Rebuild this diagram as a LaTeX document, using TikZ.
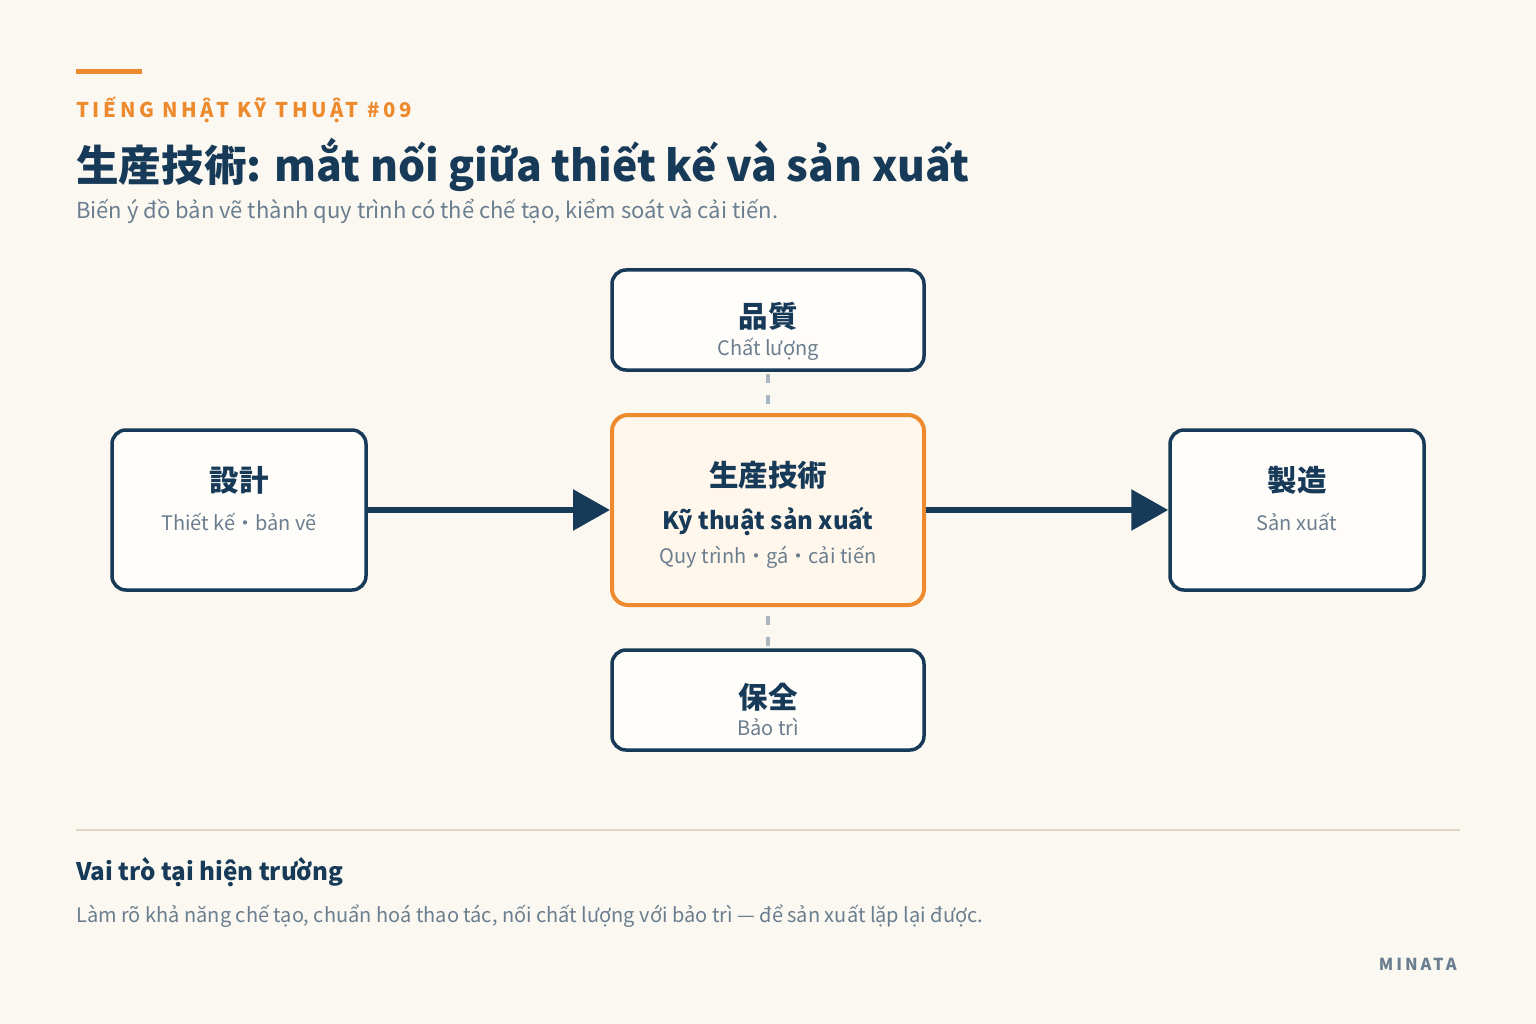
\documentclass[tikz,border=0pt]{standalone}
\usepackage{fontspec}
\setmainfont{Noto Sans CJK JP}
\newfontfamily\trackfont[LetterSpace=18]{Noto Sans CJK JP}
\usetikzlibrary{arrows.meta}
\definecolor{navy}{HTML}{173A58}
\definecolor{slate}{HTML}{6B7E8F}
\definecolor{accent}{HTML}{EE8A2E}
\definecolor{paper}{HTML}{FAF8F1}
\definecolor{boxfill}{HTML}{FFFDF9}
\definecolor{hubfill}{HTML}{FFF7EB}
\definecolor{dashgray}{HTML}{A9B6C0}
\definecolor{rulecolor}{HTML}{E2D6C3}
\begin{document}
\begin{tikzpicture}[x=1pt,y=-1pt,
  box/.style={draw=navy,line width=3.5pt,rounded corners=14pt,fill=boxfill,inner sep=0pt},
  hub/.style={draw=accent,line width=4pt,rounded corners=16pt,fill=hubfill,inner sep=0pt},
  head/.style={anchor=base,inner sep=0pt,text=navy,font=\fontsize{29.5}{29.5}\selectfont\bfseries},
  sub/.style={anchor=base,inner sep=0pt,text=slate,font=\fontsize{20}{20}\selectfont},
  flow/.style={draw=navy,line width=6pt,-{Triangle[length=37pt,width=40pt]}},
  link/.style={draw=dashgray,line width=3.5pt,dash pattern=on 9pt off 12pt}]
\fill[paper] (0,0) rectangle (1536,1024);
\fill[accent] (76,69) rectangle (142,74);
\node[anchor=base west,inner sep=0pt,text=accent,font=\trackfont\fontsize{20.3}{20.3}\selectfont\bfseries] (kicker) at (76,118) {TIẾNG NHẬT KỸ THUẬT \#09};
\node[anchor=base west,inner sep=0pt,text=navy,font=\fontsize{42.6}{42.6}\selectfont\bfseries] (title) at (76,182) {生産技術: mắt nối giữa thiết kế và sản xuất};
\node[anchor=base west,inner sep=0pt,text=slate,font=\fontsize{22}{22}\selectfont] (subtitle) at (76,219) {Biến ý đồ bản vẽ thành quy trình có thể chế tạo, kiểm soát và cải tiến.};

\node[box,minimum width=312pt,minimum height=100pt] (quality) at (768,320) {};
\node[hub,minimum width=312pt,minimum height=190pt] (prodtech) at (768,510) {};
\node[box,minimum width=312pt,minimum height=100pt] (maint) at (768,700) {};
\node[box,minimum width=254pt,minimum height=160pt] (design) at (239,510) {};
\node[box,minimum width=254pt,minimum height=160pt] (manuf) at (1297,510) {};

\draw[link,shorten <=2pt,shorten >=2pt] (quality.south) -- (prodtech.north);
\draw[link,shorten <=2pt,shorten >=2pt] (maint.north) -- (prodtech.south);
\draw[flow] (design.east) -- (prodtech.west);
\draw[flow] (prodtech.east) -- (manuf.west);

\node[head] (quality-jp) at (768,327) {品質};
\node[sub] (quality-vi) at (768,355) {Chất lượng};
\node[head] (prodtech-jp) at (768,486) {生産技術};
\node[head,font=\fontsize{24}{24}\selectfont\bfseries] (prodtech-vi) at (768,529) {Kỹ thuật sản xuất};
\node[sub] (prodtech-note) at (768,563) {Quy trình・gá・cải tiến};
\node[head] (design-jp) at (239,491) {設計};
\node[sub] (design-vi) at (239,530) {Thiết kế・bản vẽ};
\node[head] (manuf-jp) at (1297,491) {製造};
\node[sub] (manuf-vi) at (1297,530) {Sản xuất};
\node[head] (maint-jp) at (768,708) {保全};
\node[sub] (maint-vi) at (768,735) {Bảo trì};

\draw[rulecolor,line width=2pt] (76,830) -- (1460,830);
\node[anchor=base west,inner sep=0pt,text=navy,font=\fontsize{24.2}{24.2}\selectfont\bfseries] (role) at (76,880) {Vai trò tại hiện trường};
\node[anchor=base west,inner sep=0pt,text=slate,font=\fontsize{20}{20}\selectfont] (role-text) at (76,922) {Làm rõ khả năng chế tạo, chuẩn hoá thao tác, nối chất lượng với bảo trì — để sản xuất lặp lại được.};
\node[anchor=base east,inner sep=0pt,text=slate,font=\trackfont\fontsize{16.5}{16.5}\selectfont\bfseries] (brand) at (1457,970) {MINATA};
\end{tikzpicture}
\end{document}
